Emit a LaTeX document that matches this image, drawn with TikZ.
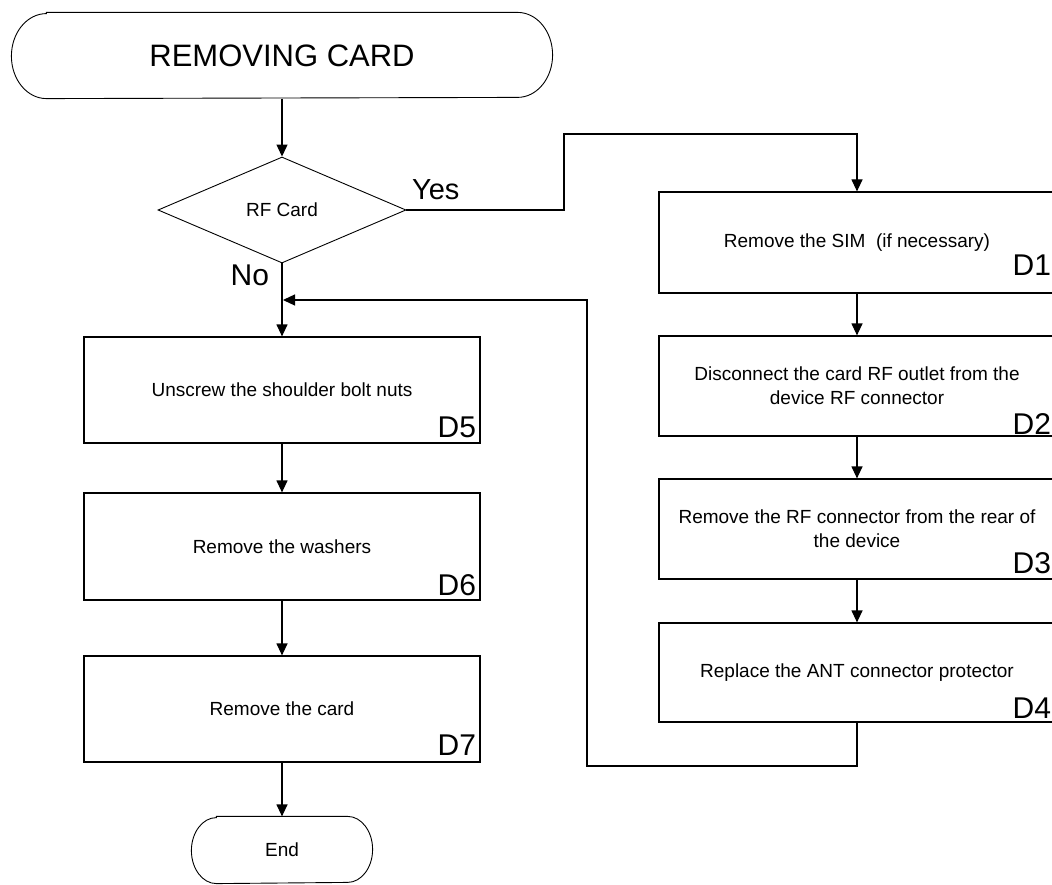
\documentclass[tikz,border=0pt]{standalone}
\usepackage{fontspec}
\setmainfont{Liberation Sans}
\usetikzlibrary{shapes.geometric,arrows.meta}
\begin{document}
\begin{tikzpicture}[x=1pt,y=-1pt,
  line width=1.2pt,
  proc/.style={draw, rectangle, minimum width=396pt, inner sep=0pt, align=center,
               font=\fontsize{19}{24}\selectfont},
  lbl/.style={anchor=base east, inner sep=0pt, font=\fontsize{30}{30}\selectfont},
  arr/.style={-{Triangle[length=12pt,width=11pt]}},
  thinline/.style={line width=0.9pt},
  bare/.style={inner sep=0pt}
]
\useasboundingbox (0,0) rectangle (1052,885);

% start terminal
\node[bare, minimum width=540pt, minimum height=85pt, font=\fontsize{31}{31}\selectfont] (start) at (282,55.5) {REMOVING CARD};
\draw[thinline] ([xshift=35pt]start.north west) -- ([xshift=-35pt]start.north east)
  arc[start angle=90,end angle=-90,x radius=35pt,y radius=42.5pt]
  -- ([xshift=35pt]start.south west)
  arc[start angle=270,end angle=90,x radius=35pt,y radius=42.5pt] -- cycle;

% decision
\node[diamond, draw, thinline, minimum width=248pt, minimum height=106pt, inner sep=0pt,
      font=\fontsize{19}{19}\selectfont] (dec) at (282,210) {RF Card};
\node[anchor=base west, bare, font=\fontsize{29}{29}\selectfont] (yes) at ([xshift=5pt,yshift=10pt]dec.east) {Yes};
\node[anchor=base west, bare, font=\fontsize{30}{30}\selectfont] (no) at ([xshift=-52pt,yshift=-22pt]dec.south) {No};

% left column
\node[proc, minimum height=106pt] (d5) at (282,390) {Unscrew the shoulder bolt nuts};
\node[proc, minimum height=107pt] (d6) at (282,546.5) {Remove the washers};
\node[proc, minimum height=106pt] (d7) at (282,709) {Remove the card};

% right column
\node[proc, minimum height=101pt] (d1) at (857,242.5) {Remove the SIM\ \ (if necessary)};
\node[proc, minimum height=100pt] (d2) at (857,386) {Disconnect the card RF outlet from the\\device RF connector};
\node[proc, minimum height=100pt] (d3) at (857,529) {Remove the RF connector from the rear of\\the device};
\node[proc, minimum height=99pt] (d4) at (857,672.5) {Replace the ANT connector protector};

% step labels
\node[lbl] (l1) at ([xshift=-4pt,yshift=18pt]d1.south east) {D1};
\node[lbl] (l2) at ([xshift=-4pt,yshift=2pt]d2.south east) {D2};
\node[lbl] (l3) at ([xshift=-4pt,yshift=6pt]d3.south east) {D3};
\node[lbl] (l4) at ([xshift=-4pt,yshift=4pt]d4.south east) {D4};
\node[lbl] (l5) at ([xshift=-4pt,yshift=6pt]d5.south east) {D5};
\node[lbl] (l6) at ([xshift=-4pt,yshift=5pt]d6.south east) {D6};
\node[lbl] (l7) at ([xshift=-4pt,yshift=7pt]d7.south east) {D7};

% end terminal
\node[bare, minimum width=180pt, minimum height=66pt, font=\fontsize{19}{19}\selectfont] (end) at (282,850) {End};
\draw[thinline] ([xshift=25pt]end.north west) -- ([xshift=-25pt]end.north east)
  arc[start angle=90,end angle=-90,x radius=25pt,y radius=33pt]
  -- ([xshift=25pt]end.south west)
  arc[start angle=270,end angle=90,x radius=25pt,y radius=33pt] -- cycle;

% connectors
\coordinate (yesA) at (564,134);
\coordinate (retA) at (587,766);
\coordinate (retB) at (283,300);
\draw[arr] (start.south) -- (dec.north);
\draw[arr] (dec.south) -- (d5.north);
\draw[arr] (dec.east) -| (yesA) -| (d1.north);
\draw[arr] (d1.south) -- (d2.north);
\draw[arr] (d2.south) -- (d3.north);
\draw[arr] (d3.south) -- (d4.north);
\draw[arr] (d4.south) |- (retA) |- (retB);
\draw[arr] (d5.south) -- (d6.north);
\draw[arr] (d6.south) -- (d7.north);
\draw[arr] (d7.south) -- (end.north);
\end{tikzpicture}
\end{document}
